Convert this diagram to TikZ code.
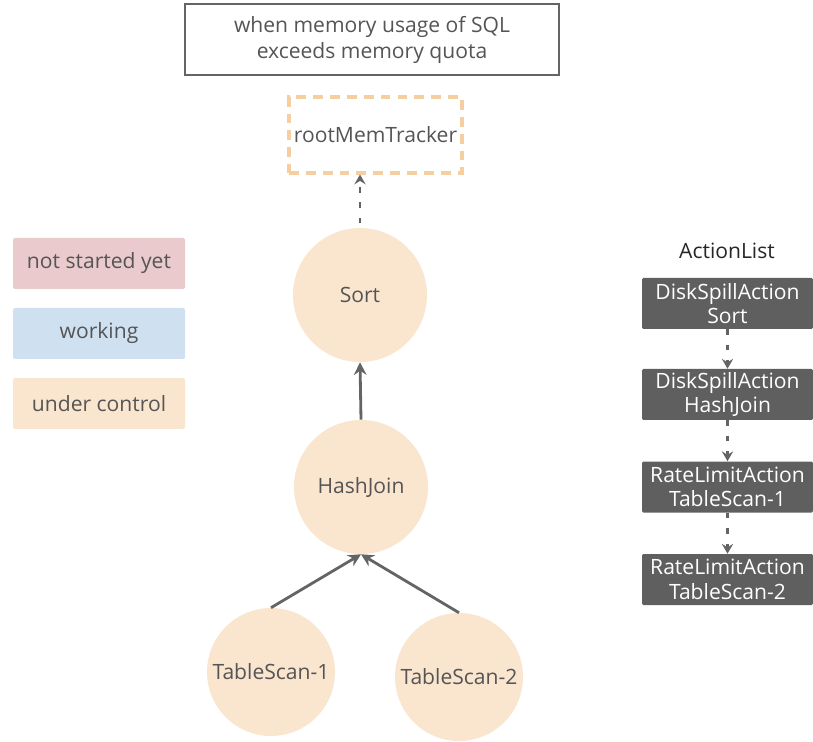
\documentclass[tikz,border=0pt]{standalone}
\usepackage{fontspec}
\setmainfont{Open Sans}
\usetikzlibrary{arrows.meta}

\begin{document}
\begin{tikzpicture}[
    font=\fontsize{15}{18.5}\selectfont,
    text=textgray,
    note/.style={draw=framegray, line width=2pt, align=center, minimum width=9.35cm, minimum height=1.775cm, inner sep=2pt},
    tracker/.style={draw=trackerorange, dashed, dash pattern=on 7pt off 5pt, line width=2.2pt, minimum width=4.325cm, minimum height=1.9cm, inner sep=2pt},
    operator/.style={circle, fill=controlpeach, minimum size=3.35cm, inner sep=0pt},
    scan/.style={circle, fill=controlpeach, minimum size=3.2cm, inner sep=0pt},
    legend/.style={rounded corners=1.5pt, minimum width=4.3cm, minimum height=1.275cm, inner sep=2pt},
    action/.style={fill=actiongray, text=white, rounded corners=1pt, align=center, minimum width=4.275cm, minimum height=1.275cm, inner sep=1pt, font=\fontsize{15}{17.5}\selectfont},
    flow/.style={-{Stealth[length=9pt, width=9pt, inset=3pt]}, draw=arrowgray, line width=2pt},
    dotflow/.style={-{Stealth[length=7pt, width=8pt, inset=2.5pt]}, draw=arrowgray, line width=1.5pt, dash pattern=on 4pt off 7pt}
]
\definecolor{textgray}{RGB}{85,85,85}
\definecolor{framegray}{RGB}{100,100,100}
\definecolor{arrowgray}{RGB}{100,100,100}
\definecolor{trackerorange}{RGB}{246,207,160}
\definecolor{controlpeach}{RGB}{250,229,207}
\definecolor{pendingpink}{RGB}{234,202,204}
\definecolor{workingblue}{RGB}{207,224,240}
\definecolor{actiongray}{RGB}{95,95,95}

\useasboundingbox (0,0) rectangle (20.325,18.525);

\node[note] (quota) at (9.30,17.5375) {when memory usage of SQL\\exceeds memory quota};
\node[tracker] (root) at (9.3875,15.15) {rootMemTracker};

\node[operator] (sort) at (9.00,11.15) {Sort};
\node[operator] (hashjoin) at (9.025,6.35) {HashJoin};
\node[scan] (scan1) at (6.775,1.725) {TableScan-1};
\node[scan] (scan2) at (11.475,1.60) {TableScan-2};
\draw[dotflow, shorten <=3pt] (sort.north) -- (sort.north |- root.south);
\draw[flow] (hashjoin.north) -- (sort.south);
\draw[flow] (scan1.north) -- (hashjoin.south);
\draw[flow] (scan2.north) -- (hashjoin.south);

\node[legend, fill=pendingpink] (pending) at (2.475,11.9375) {not started yet};
\node[legend, fill=workingblue] (working) at (2.475,10.1875) {working};
\node[legend, fill=controlpeach] (control) at (2.475,8.4375) {under control};

\node[text=black!85] (actionlist) at (18.175,12.25) {ActionList};
\node[action] (spillsort) at (18.1875,10.9375) {DiskSpillAction\\Sort};
\node[action] (spilljoin) at (18.1875,8.6625) {DiskSpillAction\\HashJoin};
\node[action] (limitscan1) at (18.1875,6.35) {RateLimitAction\\TableScan-1};
\node[action] (limitscan2) at (18.1875,4.0375) {RateLimitAction\\TableScan-2};
\draw[dotflow] (spillsort) -- (spilljoin);
\draw[dotflow] (spilljoin) -- (limitscan1);
\draw[dotflow] (limitscan1) -- (limitscan2);
\end{tikzpicture}
\end{document}
